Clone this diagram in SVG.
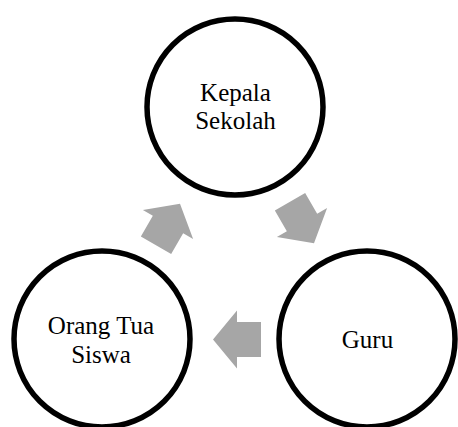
<svg xmlns="http://www.w3.org/2000/svg" xmlns:xlink="http://www.w3.org/1999/xlink" width="458" height="427" viewBox="0 0 458 427">
  <style>
    .node { fill: #FFFFFF; stroke: #000000; stroke-width: 5.5; }
    .label { font-family: "Liberation Serif", "Times New Roman", serif; font-size: 25px; fill: #000000; text-anchor: middle; }
    .arrow { fill: #A6A6A6; stroke: none; }
  </style>
  <defs>
    <polygon id="arr" points="-24,-17.5 0,-17.5 0,-29 24,0 0,29 0,17.5 -24,17.5"/>
  </defs>
  <rect width="458" height="427" fill="#FFFFFF"/>
  <g id="connectors">
    <use xlink:href="#arr" href="#arr" class="arrow" transform="translate(302,222.5) rotate(60)"/>
    <use xlink:href="#arr" href="#arr" class="arrow" transform="translate(237,339.5) rotate(180)"/>
    <use xlink:href="#arr" href="#arr" class="arrow" transform="translate(168,224.5) rotate(-60)"/>
  </g>
  <g id="kepala-sekolah">
    <circle class="node" cx="235" cy="107" r="88"/>
    <text class="label" x="235.5" y="101">Kepala</text>
    <text class="label" x="235.5" y="129">Sekolah</text>
  </g>
  <g id="guru">
    <circle class="node" cx="367" cy="339" r="88"/>
    <text class="label" x="367.5" y="348">Guru</text>
  </g>
  <g id="orang-tua-siswa">
    <circle class="node" cx="102" cy="339" r="88"/>
    <text class="label" x="101" y="333.5">Orang Tua</text>
    <text class="label" x="101" y="362.5">Siswa</text>
  </g>
</svg>
